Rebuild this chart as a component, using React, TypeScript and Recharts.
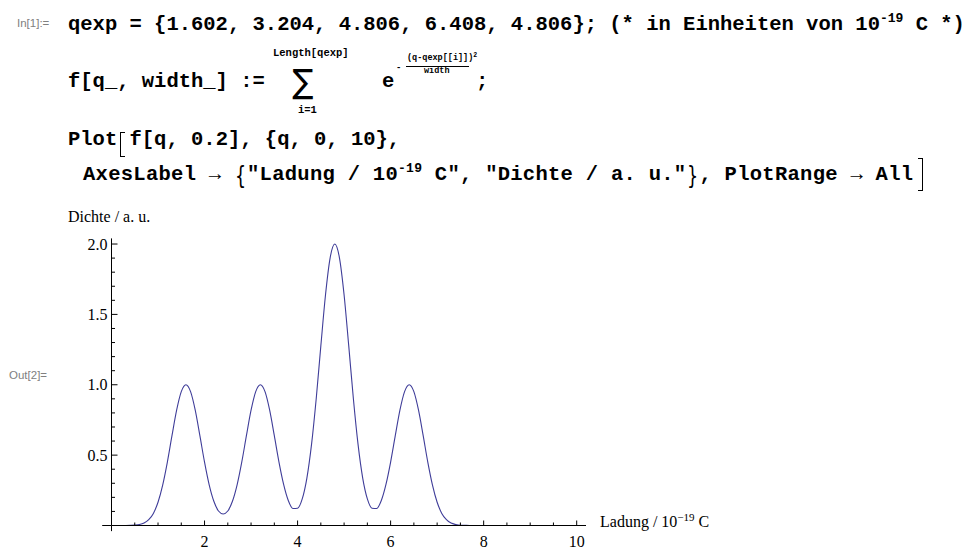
import { LineChart, Line, XAxis, YAxis, ReferenceLine } from 'recharts'

// Ladung q in 10^-19 C in steps of 0.1
const qValues = [
  0, 0.1, 0.2, 0.3, 0.4, 0.5, 0.6, 0.7, 0.8, 0.9,
  1, 1.1, 1.2, 1.3, 1.4, 1.5, 1.6, 1.7, 1.8, 1.9,
  2, 2.1, 2.2, 2.3, 2.4, 2.5, 2.6, 2.7, 2.8, 2.9,
  3, 3.1, 3.2, 3.3, 3.4, 3.5, 3.6, 3.7, 3.8, 3.9,
  4, 4.1, 4.2, 4.3, 4.4, 4.5, 4.6, 4.7, 4.8, 4.9,
  5, 5.1, 5.2, 5.3, 5.4, 5.5, 5.6, 5.7, 5.8, 5.9,
  6, 6.1, 6.2, 6.3, 6.4, 6.5, 6.6, 6.7, 6.8, 6.9,
  7, 7.1, 7.2, 7.3, 7.4, 7.5, 7.6, 7.7, 7.8, 7.9,
  8, 8.1, 8.2, 8.3, 8.4, 8.5, 8.6, 8.7, 8.8, 8.9,
  9, 9.1, 9.2, 9.3, 9.4, 9.5, 9.6, 9.7, 9.8, 9.9,
  10,
]

// Dichte / a. u.
const density = [
  0, 0, 0, 0.0002, 0.0008, 0.0024, 0.0067, 0.0174, 0.041, 0.086,
  0.165, 0.287, 0.449, 0.638, 0.819, 0.951, 1.0, 0.951, 0.819, 0.638,
  0.45, 0.289, 0.172, 0.103, 0.082, 0.103, 0.172, 0.289, 0.45, 0.638,
  0.819, 0.951, 1.0, 0.951, 0.819, 0.638, 0.451, 0.292, 0.178, 0.121,
  0.123, 0.189, 0.337, 0.576, 0.899, 1.276, 1.638, 1.902, 2.0, 1.902,
  1.638, 1.276, 0.899, 0.576, 0.337, 0.189, 0.123, 0.121, 0.178, 0.292,
  0.451, 0.638, 0.819, 0.951, 1.0, 0.951, 0.819, 0.638, 0.449, 0.287,
  0.165, 0.086, 0.041, 0.017, 0.007, 0.002, 0.001, 0, 0, 0,
  0, 0, 0, 0, 0, 0, 0, 0, 0, 0,
  0, 0, 0, 0, 0, 0, 0, 0, 0, 0,
  0,
]

const xTicks = [0.5, 1, 1.5, 2, 2.5, 3, 3.5, 4, 4.5, 5, 5.5, 6, 6.5, 7, 7.5, 8, 8.5, 9, 9.5, 10]
const xTickLabels = [2, 4, 6, 8, 10]
const yTicks = [
  0.1, 0.2, 0.3, 0.4, 0.5, 0.6, 0.7, 0.8, 0.9, 1.0,
  1.1, 1.2, 1.3, 1.4, 1.5, 1.6, 1.7, 1.8, 1.9, 2.0,
]
const yTickLabels = [0.5, 1.0, 1.5, 2.0]

const data = qValues.map((q, i) => ({ q, f: density[i] }))

const mono = '"Liberation Mono", "Courier New", monospace'
const serif = '"Liberation Serif", "Times New Roman", serif'
const sans = '"Liberation Sans", Arial, sans-serif'
const curveColor = '#3f3d99'

function XTick(props: any) {
  const { x, y, payload } = props
  const major = xTickLabels.includes(payload.value)
  return (
    <g>
      <line x1={x} y1={y} x2={x} y2={y - (major ? 5 : 3)} stroke="#000" />
      {major && (
        <text x={x} y={y + 21} textAnchor="middle" fontFamily={serif} fontSize={16} fill="#000">
          {payload.value}
        </text>
      )}
    </g>
  )
}

function YTick(props: any) {
  const { x, y, payload } = props
  const major = yTickLabels.includes(payload.value)
  return (
    <g>
      <line x1={x} y1={y} x2={x + (major ? 6 : 3.5)} y2={y} stroke="#000" />
      {major && (
        <text x={x - 4} y={y + 5.5} textAnchor="end" fontFamily={serif} fontSize={16} fill="#000">
          {payload.value.toFixed(1)}
        </text>
      )}
    </g>
  )
}

const code: React.CSSProperties = {
  position: 'absolute',
  fontFamily: mono,
  fontWeight: 700,
  fontSize: 20.5,
  lineHeight: '24px',
  whiteSpace: 'pre',
  color: '#000',
}

const small: React.CSSProperties = {
  position: 'absolute',
  fontFamily: mono,
  fontWeight: 700,
  whiteSpace: 'pre',
  color: '#000',
}

const cellLabel: React.CSSProperties = {
  position: 'absolute',
  fontFamily: sans,
  fontSize: 11.5,
  color: '#808080',
  whiteSpace: 'pre',
}

function Sup({ children, size = 13, rise = 8 }: any) {
  return <span style={{ fontSize: size, position: 'relative', top: -rise }}>{children}</span>
}

// tall bracket drawn as a thin frame inside one character cell
function Bracket({ side, top, height }: any) {
  return (
    <span style={{ display: 'inline-block', width: 12.3, height: 24, position: 'relative', verticalAlign: 'top' }}>
      <span
        style={{
          position: 'absolute',
          top,
          height,
          width: 4,
          left: side === 'left' ? 3 : 5,
          borderTop: '1px solid #000',
          borderBottom: '1px solid #000',
          borderLeft: side === 'left' ? '1px solid #000' : 'none',
          borderRight: side === 'right' ? '1px solid #000' : 'none',
        }}
      />
    </span>
  )
}

function Brace({ ch }: any) {
  return (
    <span style={{ display: 'inline-block', width: 13, height: 24, position: 'relative', verticalAlign: 'top', overflow: 'visible' }}>
      <span
        style={{
          position: 'absolute',
          left: -1,
          top: -1,
          width: 13,
          textAlign: 'center',
          fontFamily: '"DejaVu Sans", sans-serif',
          fontWeight: 400,
          fontSize: 25,
          lineHeight: '28px',
          transform: 'scaleX(0.7)',
        }}
      >
        {ch}
      </span>
    </span>
  )
}

export default function App() {
  return (
    <div style={{ position: 'fixed', left: 0, top: 0, width: 974, height: 548, background: '#fff', overflow: 'hidden' }}>
      <div style={{ ...cellLabel, left: 17, top: 17 }}>In[1]:=</div>
      <div style={{ ...code, left: 68, top: 13 }}>
        {'qexp = {1.602, 3.204, 4.806, 6.408, 4.806}; (* in Einheiten von 10'}
        <Sup>-19</Sup>
        {' C *)'}
      </div>

      <div style={{ ...code, left: 68, top: 70 }}>{'f[q_, width_] :='}</div>
      <div style={{ ...small, left: 273, top: 47, fontSize: 10.5 }}>Length[qexp]</div>
      <div
        style={{
          position: 'absolute',
          left: 292,
          top: 63,
          fontFamily: '"DejaVu Sans", sans-serif',
          fontSize: 33,
          lineHeight: '38px',
          transform: 'scaleX(0.95)',
        }}
      >
        ∑
      </div>
      <div style={{ ...small, left: 298, top: 104, fontSize: 10.5 }}>i=1</div>
      <div style={{ ...code, left: 382, top: 70 }}>e</div>
      <div style={{ ...small, left: 396, top: 63, fontSize: 9 }}>-</div>
      <div style={{ ...small, left: 407, top: 53, fontSize: 8.5 }}>
        (q-qexp[[i]])<Sup size={6.5} rise={3}>2</Sup>
      </div>
      <div style={{ position: 'absolute', left: 406, top: 66, width: 63, height: 0, borderTop: '1px solid #000' }} />
      <div style={{ ...small, left: 424, top: 66, fontSize: 8.5 }}>width</div>
      <div style={{ ...code, left: 476, top: 70 }}>;</div>

      <div style={{ ...code, left: 68, top: 128 }}>
        {'Plot'}
        <Bracket side="left" top={4} height={23} />
        {'f[q, 0.2], {q, 0, 10},'}
      </div>
      <div style={{ ...code, left: 83, top: 163, letterSpacing: 0.28 }}>
        {'AxesLabel → '}
        <Brace ch="{" />
        {'"Ladung / 10'}
        <Sup>-19</Sup>
        {' C", "Dichte / a. u."'}
        <Brace ch="}" />
        {', PlotRange → All'}
        <Bracket side="right" top={-5} height={31} />
      </div>

      <div style={{ ...cellLabel, left: 9, top: 369 }}>Out[2]=</div>

      <div style={{ position: 'absolute', left: 0, top: 0 }}>
        <LineChart
          width={974}
          height={548}
          data={data}
          margin={{ top: 238.4, right: 388, bottom: 21.5, left: 110.5 }}
        >
          <XAxis
            type="number"
            dataKey="q"
            domain={[0, 10.2]}
            ticks={xTicks}
            interval={0}
            height={1}
            tickSize={0}
            tickMargin={0}
            tickLine={false}
            axisLine={{ stroke: '#000' }}
            tick={(p: any) => <XTick {...p} />}
            allowDataOverflow
          />
          <YAxis
            type="number"
            domain={[0, 2.04]}
            ticks={yTicks}
            interval={0}
            width={1}
            tickSize={0}
            tickMargin={0}
            tickLine={false}
            axisLine={{ stroke: '#000' }}
            tick={(p: any) => <YTick {...p} />}
            allowDataOverflow
          />
          <ReferenceLine segment={[{ x: -0.2, y: 0 }, { x: 0, y: 0 }]} stroke="#000" ifOverflow="visible" />
          <ReferenceLine segment={[{ x: 0, y: -0.04 }, { x: 0, y: 0 }]} stroke="#000" ifOverflow="visible" />
          <Line
            type="monotone"
            dataKey="f"
            stroke={curveColor}
            strokeWidth={1.1}
            dot={false}
            activeDot={false}
            isAnimationActive={false}
          />
        </LineChart>
      </div>

      <div style={{ position: 'absolute', left: 68, top: 208.6, fontFamily: serif, fontSize: 16, lineHeight: '16px', whiteSpace: 'pre' }}>
        Dichte / a. u.
      </div>
      <div style={{ position: 'absolute', left: 600, top: 514, fontFamily: serif, fontSize: 16, lineHeight: '16px', whiteSpace: 'pre' }}>
        {'Ladung / 10'}
        <Sup size={11} rise={6}>−19</Sup>
        {' C'}
      </div>
    </div>
  )
}
